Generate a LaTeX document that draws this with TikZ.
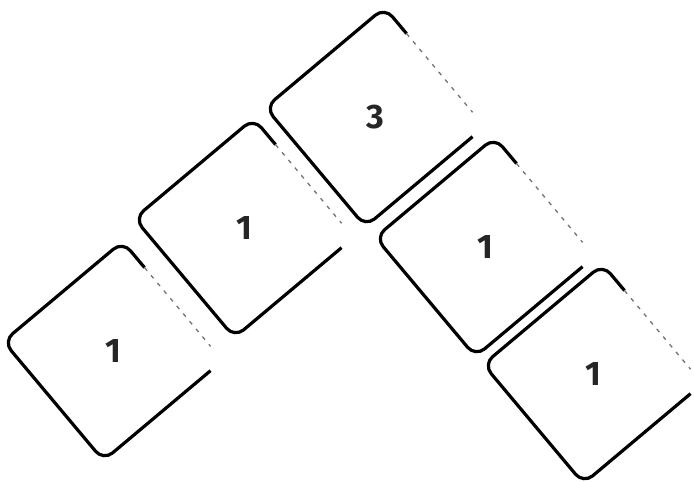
\documentclass[tikz,border=0pt]{standalone}
\usepackage{fontspec}
\setmainfont{Fira Sans}
\usepackage{tikz}
\usetikzlibrary{shapes.geometric, calc}

\begin{document}
\begin{tikzpicture}[
    x=1pt, y=-1pt,
    tile/.style={draw=black, regular polygon, regular polygon sides=4, shape border rotate=40, minimum size=220pt, inner sep=0pt, outer sep=0pt, line width=3.2pt, rounded corners=12pt, fill=white, text=black!85, font=\fontsize{34}{34}\selectfont\bfseries},
    fade/.style={draw=white, line width=5.5pt, rounded corners=12pt},
    faint/.style={draw=black!55, line width=1.3pt, dash pattern=on 4pt off 6pt}
  ]
    \useasboundingbox (0,0) rectangle (694,482);

    % Tiles
    \node[tile] (t1) at (113,351) {1};
    \node[tile] (t2) at (244,228) {1};
    \node[tile] (t3) at (375,117) {3};
    \node[tile] (t4) at (485,247) {1};
    \node[tile] (t5) at (593,374) {1};

    % Faded right edges
    \foreach \t in {t1,t2,t3,t4,t5} {
      \draw[fade] ($(\t.corner 1)!0.22!(\t.corner 4)$) -- (\t.corner 4) -- ($(\t.corner 4)!0.1!(\t.corner 3)$);
      \draw[faint] ($(\t.corner 1)!0.22!(\t.corner 4)$) -- ($(\t.corner 1)!0.88!(\t.corner 4)$);
    }

  \end{tikzpicture}
\end{document}
